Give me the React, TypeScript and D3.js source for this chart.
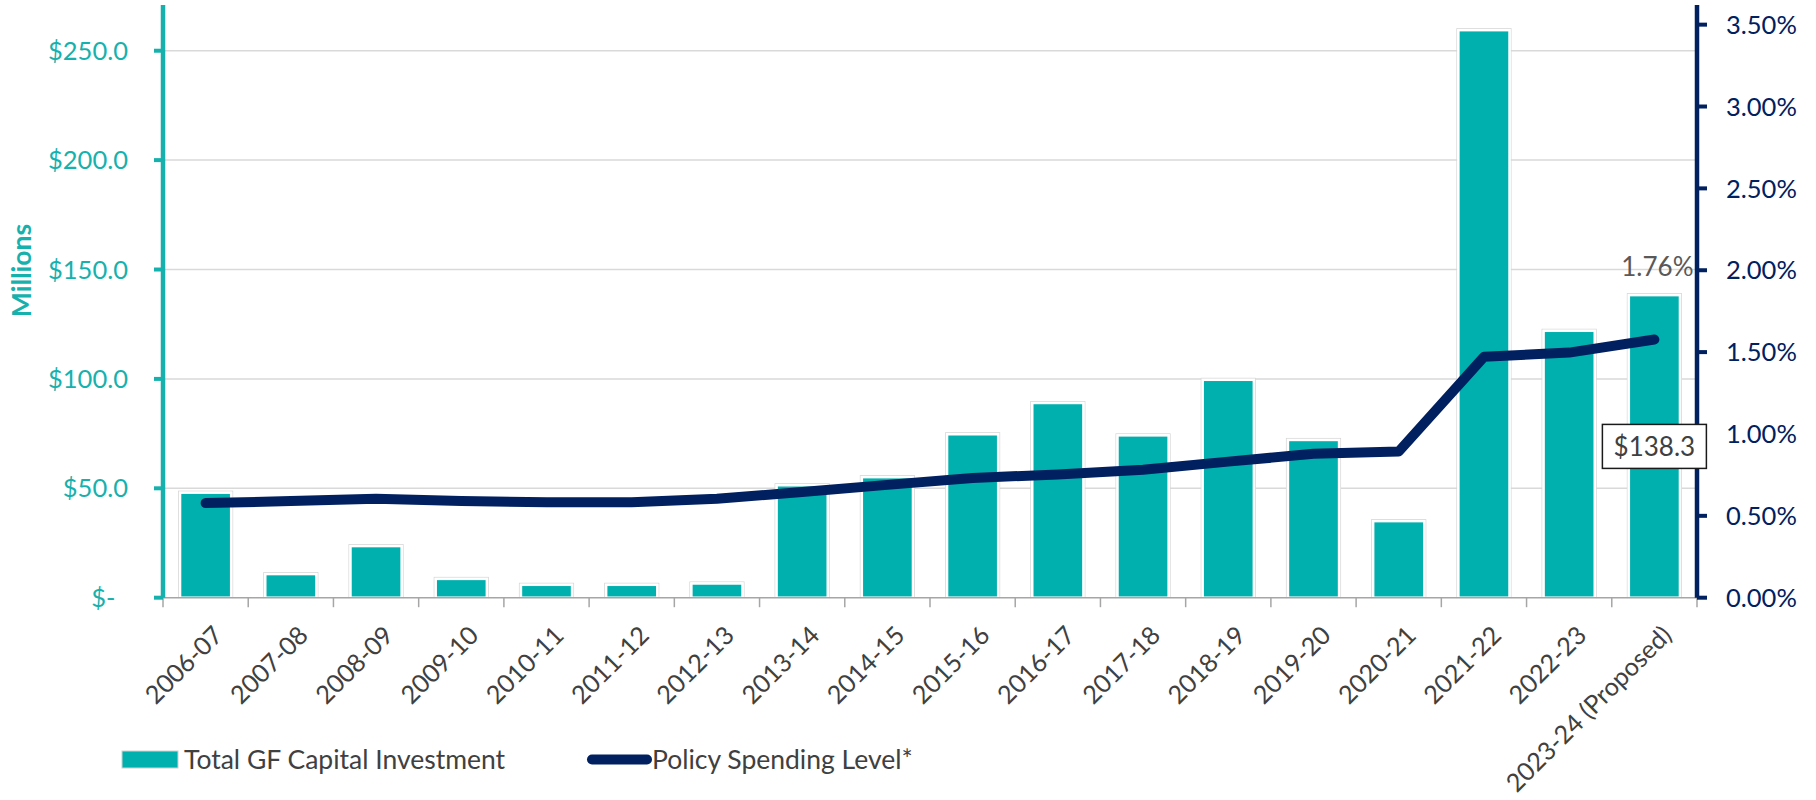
import React from 'react';
import * as d3 from 'd3';

const categories = [
  '2006-07', '2007-08', '2008-09', '2009-10', '2010-11', '2011-12', '2012-13',
  '2013-14', '2014-15', '2015-16', '2016-17', '2017-18', '2018-19', '2019-20',
  '2020-21', '2021-22', '2022-23', '2023-24 (Proposed)',
];
// Total GF Capital Investment, $ millions
const investment = [
  48.0, 10.8, 23.6, 8.6, 5.9, 5.9, 6.5, 51.4, 55.1, 74.7, 89.0, 74.2, 99.6, 72.1,
  35.0, 259.4, 122.0, 138.3,
];
// Policy Spending Level, percent
const policyLevel = [
  0.578, 0.59, 0.604, 0.59, 0.583, 0.583, 0.604, 0.646, 0.689, 0.731, 0.753,
  0.781, 0.831, 0.879, 0.893, 1.471, 1.497, 1.577,
];
const leftTicks = [0, 50, 100, 150, 200, 250];
const rightTicks = [0, 0.5, 1, 1.5, 2, 2.5, 3, 3.5];
const barLabel = '$138.3';
const topLabel = '1.76%';
const seriesNames = ['Total GF Capital Investment', 'Policy Spending Level*'];

const W = 1816;
const H = 800;
const TEAL = '#00B0AE';
const TEAL_TEXT = '#17B1AD';
const NAVY = '#002060';
const GRAY_TEXT = '#404040';
const FONT = 'Lato, "Open Sans", sans-serif';

export default function App() {
  if (typeof document !== 'undefined') document.body.style.margin = '0';
  const left = 163;
  const right = 1697;
  const top = 5;
  const bottom = 597.7;

  const x = d3.scaleBand<string>().domain(categories).range([left, right]).paddingInner(0.4).paddingOuter(0.2);
  const yL = d3.scaleLinear().domain([0, 270.9]).range([bottom, top]);
  const yR = d3.scaleLinear().domain([0, 3.62]).range([bottom, top]);
  const step = x.step();
  const cx = (c: string) => (x(c) as number) + x.bandwidth() / 2;

  const line = d3
    .line<number>()
    .x((_, i) => cx(categories[i]))
    .y((d) => yR(d))
    .curve(d3.curveLinear);

  const lastIdx = categories.length - 1;
  const lastCat = categories[lastIdx];
  const lastVal = investment[lastIdx];

  const fmtLeft = (v: number) => (v === 0 ? '$-' : '$' + d3.format('.1f')(v));
  const fmtRight = (v: number) => d3.format('.2f')(v) + '%';

  return (
    <svg width={W} height={H} style={{ position: 'absolute', left: 0, top: 0, background: '#fff' }} fontFamily={FONT}>
      {/* gridlines */}
      {leftTicks.filter((t) => t > 0).map((t) => (
        <line key={'g' + t} x1={left} x2={right} y1={yL(t)} y2={yL(t)} stroke="#D9D9D9" strokeWidth={1.5} />
      ))}
      {/* bars */}
      {categories.map((c, i) => (
        <g key={'b' + c}>
          <rect x={x(c)! - 1.5} y={yL(investment[i]) - 1.5} width={x.bandwidth() + 3} height={bottom - yL(investment[i]) + 1.5} fill="none" stroke="#D6D6D6" strokeWidth={1} />
          <rect x={x(c)} y={yL(investment[i])} width={x.bandwidth()} height={bottom - yL(investment[i])} fill={TEAL} stroke="#ffffff" strokeWidth={2.5} />
        </g>
      ))}
      {/* x axis */}
      <line x1={left} x2={right} y1={bottom} y2={bottom} stroke="#A6A6A6" strokeWidth={1.5} />
      {d3.range(categories.length + 1).map((i) => (
        <line key={'xt' + i} x1={left + i * step} x2={left + i * step} y1={bottom} y2={bottom + 9.5} stroke="#A6A6A6" strokeWidth={1.5} />
      ))}
      {categories.map((c) => (
        <text key={'xl' + c} transform={`translate(${cx(c) + 6},${624}) rotate(-45)`} textAnchor="end" dy="0.72em" fontSize={25.2} fill={GRAY_TEXT}>
          {c}
        </text>
      ))}
      {/* left axis */}
      <line x1={left} x2={left} y1={top} y2={bottom} stroke={TEAL_TEXT} strokeWidth={4.5} />
      {leftTicks.map((t) => (
        <g key={'lt' + t}>
          <line x1={left - 9} x2={left} y1={yL(t)} y2={yL(t)} stroke={TEAL_TEXT} strokeWidth={4} />
          <text x={left - 35} dx={t === 0 ? -12.5 : 0} y={yL(t)} dy="0.36em" textAnchor="end" fontSize={25.5} fill={TEAL_TEXT}>
            {fmtLeft(t)}
          </text>
        </g>
      ))}
      <text transform={`translate(31,270.5) rotate(-90)`} textAnchor="middle" fontSize={26.5} fontWeight="bold" fill={TEAL_TEXT}>
        Millions
      </text>
      {/* right axis */}
      <line x1={right} x2={right} y1={top} y2={bottom} stroke={NAVY} strokeWidth={4.5} />
      {rightTicks.map((t) => (
        <g key={'rt' + t}>
          <line x1={right} x2={right + 10} y1={yR(t)} y2={yR(t)} stroke={NAVY} strokeWidth={4} />
          <text x={right + 29} y={yR(t)} dy="0.36em" textAnchor="start" fontSize={25.5} fill={NAVY}>
            {fmtRight(t)}
          </text>
        </g>
      ))}
      {/* line */}
      <path d={line(policyLevel) || ''} fill="none" stroke={NAVY} strokeWidth={10} strokeLinecap="round" strokeLinejoin="round" />
      {/* annotations */}
      <text x={cx(lastCat) + 3} y={yL(lastVal) - 19} textAnchor="middle" fontSize={26} fill="#595959">
        {topLabel}
      </text>
      <g transform={`translate(${cx(lastCat)},${yL(lastVal / 2)})`}>
        <rect x={-52} y={-22} width={104} height={44} fill="#ffffff" stroke="#1a1a1a" strokeWidth={1.5} />
        <text x={0} y={0} dy="0.36em" textAnchor="middle" fontSize={26} fill={GRAY_TEXT}>
          {barLabel}
        </text>
      </g>
      {/* legend */}
      <rect x={122} y={751} width={56} height={17} fill={TEAL} stroke="#D0D0D0" strokeWidth={1} />
      <text x={184} y={759.5} dy="0.35em" fontSize={26.5} fill={GRAY_TEXT}>
        {seriesNames[0]}
      </text>
      <line x1={592} x2={647} y1={759.5} y2={759.5} stroke={NAVY} strokeWidth={10} strokeLinecap="round" />
      <text x={652} y={759.5} dy="0.35em" fontSize={26.5} fill={GRAY_TEXT}>
        {seriesNames[1]}
      </text>
    </svg>
  );
}
